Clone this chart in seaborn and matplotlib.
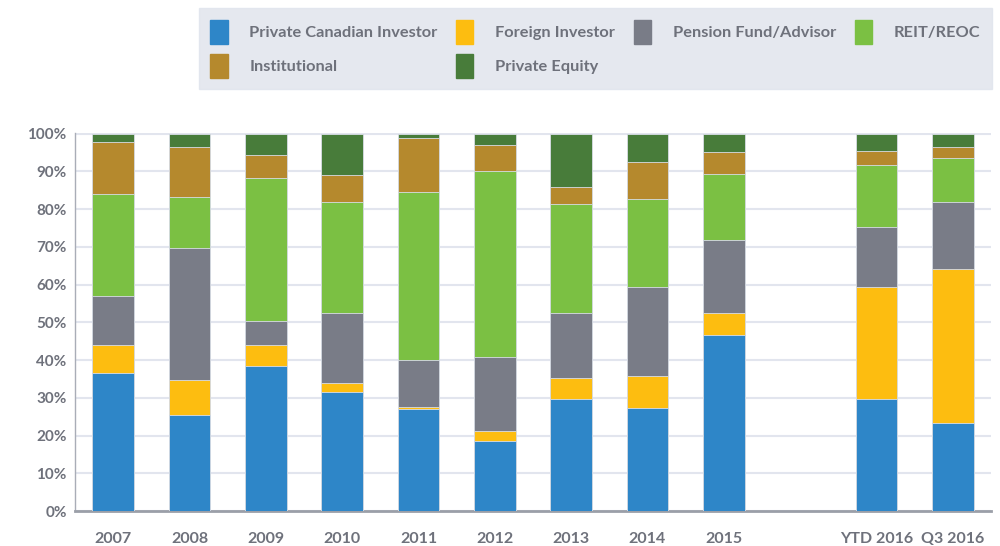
import matplotlib
matplotlib.use("Agg")
import matplotlib.pyplot as plt
import matplotlib.patches as mpatches
from matplotlib.ticker import FuncFormatter
import numpy as np
import pandas as pd
import seaborn as sns

periods = ["2007", "2008", "2009", "2010", "2011", "2012", "2013", "2014", "2015", "YTD 2016", "Q3 2016"]
series = ["Private Canadian Investor", "Foreign Investor", "Pension Fund/Advisor",
          "REIT/REOC", "Institutional", "Private Equity"]
private_canadian = [36.5, 25.4, 38.5, 31.6, 27.0, 18.5, 29.6, 27.3, 46.7, 29.6, 23.4]
foreign_investor = [7.6, 9.2, 5.6, 2.3, 0.7, 2.7, 5.7, 8.6, 5.9, 29.9, 40.7]
pension_fund = [12.8, 35.0, 6.2, 18.7, 12.2, 19.6, 17.3, 23.6, 19.1, 15.8, 17.7]
reit_reoc = [27.0, 13.6, 37.9, 29.3, 44.7, 49.3, 28.7, 23.1, 17.7, 16.4, 11.7]
institutional = [13.8, 13.4, 6.2, 7.2, 14.3, 6.9, 4.5, 9.8, 5.7, 3.6, 2.9]
private_equity = [2.3, 3.4, 5.6, 10.9, 1.1, 3.0, 14.2, 7.6, 4.9, 4.7, 3.6]

colors = ["#2e86c8", "#fdbd10", "#797c87", "#7bc043", "#b5892d", "#487c3a"]
order = periods[:9] + [" "] + periods[9:]

values = [private_canadian, foreign_investor, pension_fund, reit_reoc, institutional, private_equity]
cum = np.cumsum(np.array(values), axis=0)
rows = []
for si, s in enumerate(series):
    for pi, p in enumerate(periods):
        rows.append({"period": p, "series": s, "cum": cum[si, pi]})
df = pd.DataFrame(rows)

sns.set_theme(style="white")
plt.rcParams["font.family"] = ["Lato", "DejaVu Sans"]

fig = plt.figure(figsize=(10, 5.46), dpi=100)
ax = fig.add_axes([0.075, 0.064, 0.916, 0.6925])

for si in range(len(series) - 1, -1, -1):
    s = series[si]
    sns.barplot(data=df[df.series == s], x="period", y="cum", order=order,
                color=colors[si], saturation=1, width=0.55, ax=ax,
                edgecolor="#d8dde6", linewidth=0.6, zorder=3)

ax.set_ylim(0, 100.2)
ax.set_xlim(-0.5, 11.5)
ax.set_yticks(np.arange(0, 101, 10))
ax.yaxis.set_major_formatter(FuncFormatter(lambda v, _: f"{int(v)}%"))
ax.grid(axis="y", color="#e2e5ee", linewidth=1.5, zorder=0)
ax.set_axisbelow(True)
ax.set_xlabel("")
ax.set_ylabel("")
for sp in ["top", "right"]:
    ax.spines[sp].set_visible(False)
ax.spines["left"].set_color("#a9adb7")
ax.spines["left"].set_linewidth(1.0)
ax.spines["bottom"].set_color("#9b9fa8")
ax.spines["bottom"].set_linewidth(2.0)
ax.tick_params(axis="both", length=0, labelsize=11, labelcolor="#6e717b")
ax.tick_params(axis="x", pad=15, labelsize=11.5)
ax.tick_params(axis="y", pad=6)
for lab in ax.get_xticklabels() + ax.get_yticklabels():
    lab.set_fontweight("bold")

# column-major fill order so that rows read like the reference
leg_order = [0, 4, 1, 5, 2, 3]
handles = [mpatches.Patch(color=colors[i], label=series[i]) for i in leg_order]
leg = fig.legend(handles=handles, ncol=4, loc="lower left",
                 bbox_to_anchor=(0.199, (546 - 89) / 546, 0.793, 81 / 546),
                 mode="expand", frameon=True, fancybox=False,
                 prop={"family": ["Lato", "DejaVu Sans"], "weight": "bold", "size": 11.8},
                 handlelength=1.04, handleheight=1.87, handletextpad=1.34,
                 labelspacing=0.61, borderpad=0.7, borderaxespad=0)
leg.get_frame().set_facecolor("#dfe3ec")
leg.get_frame().set_edgecolor("#dfe3ec")
for t in leg.get_texts():
    t.set_color("#6e717b")

fig.savefig("out.png", dpi=100, facecolor="white")
